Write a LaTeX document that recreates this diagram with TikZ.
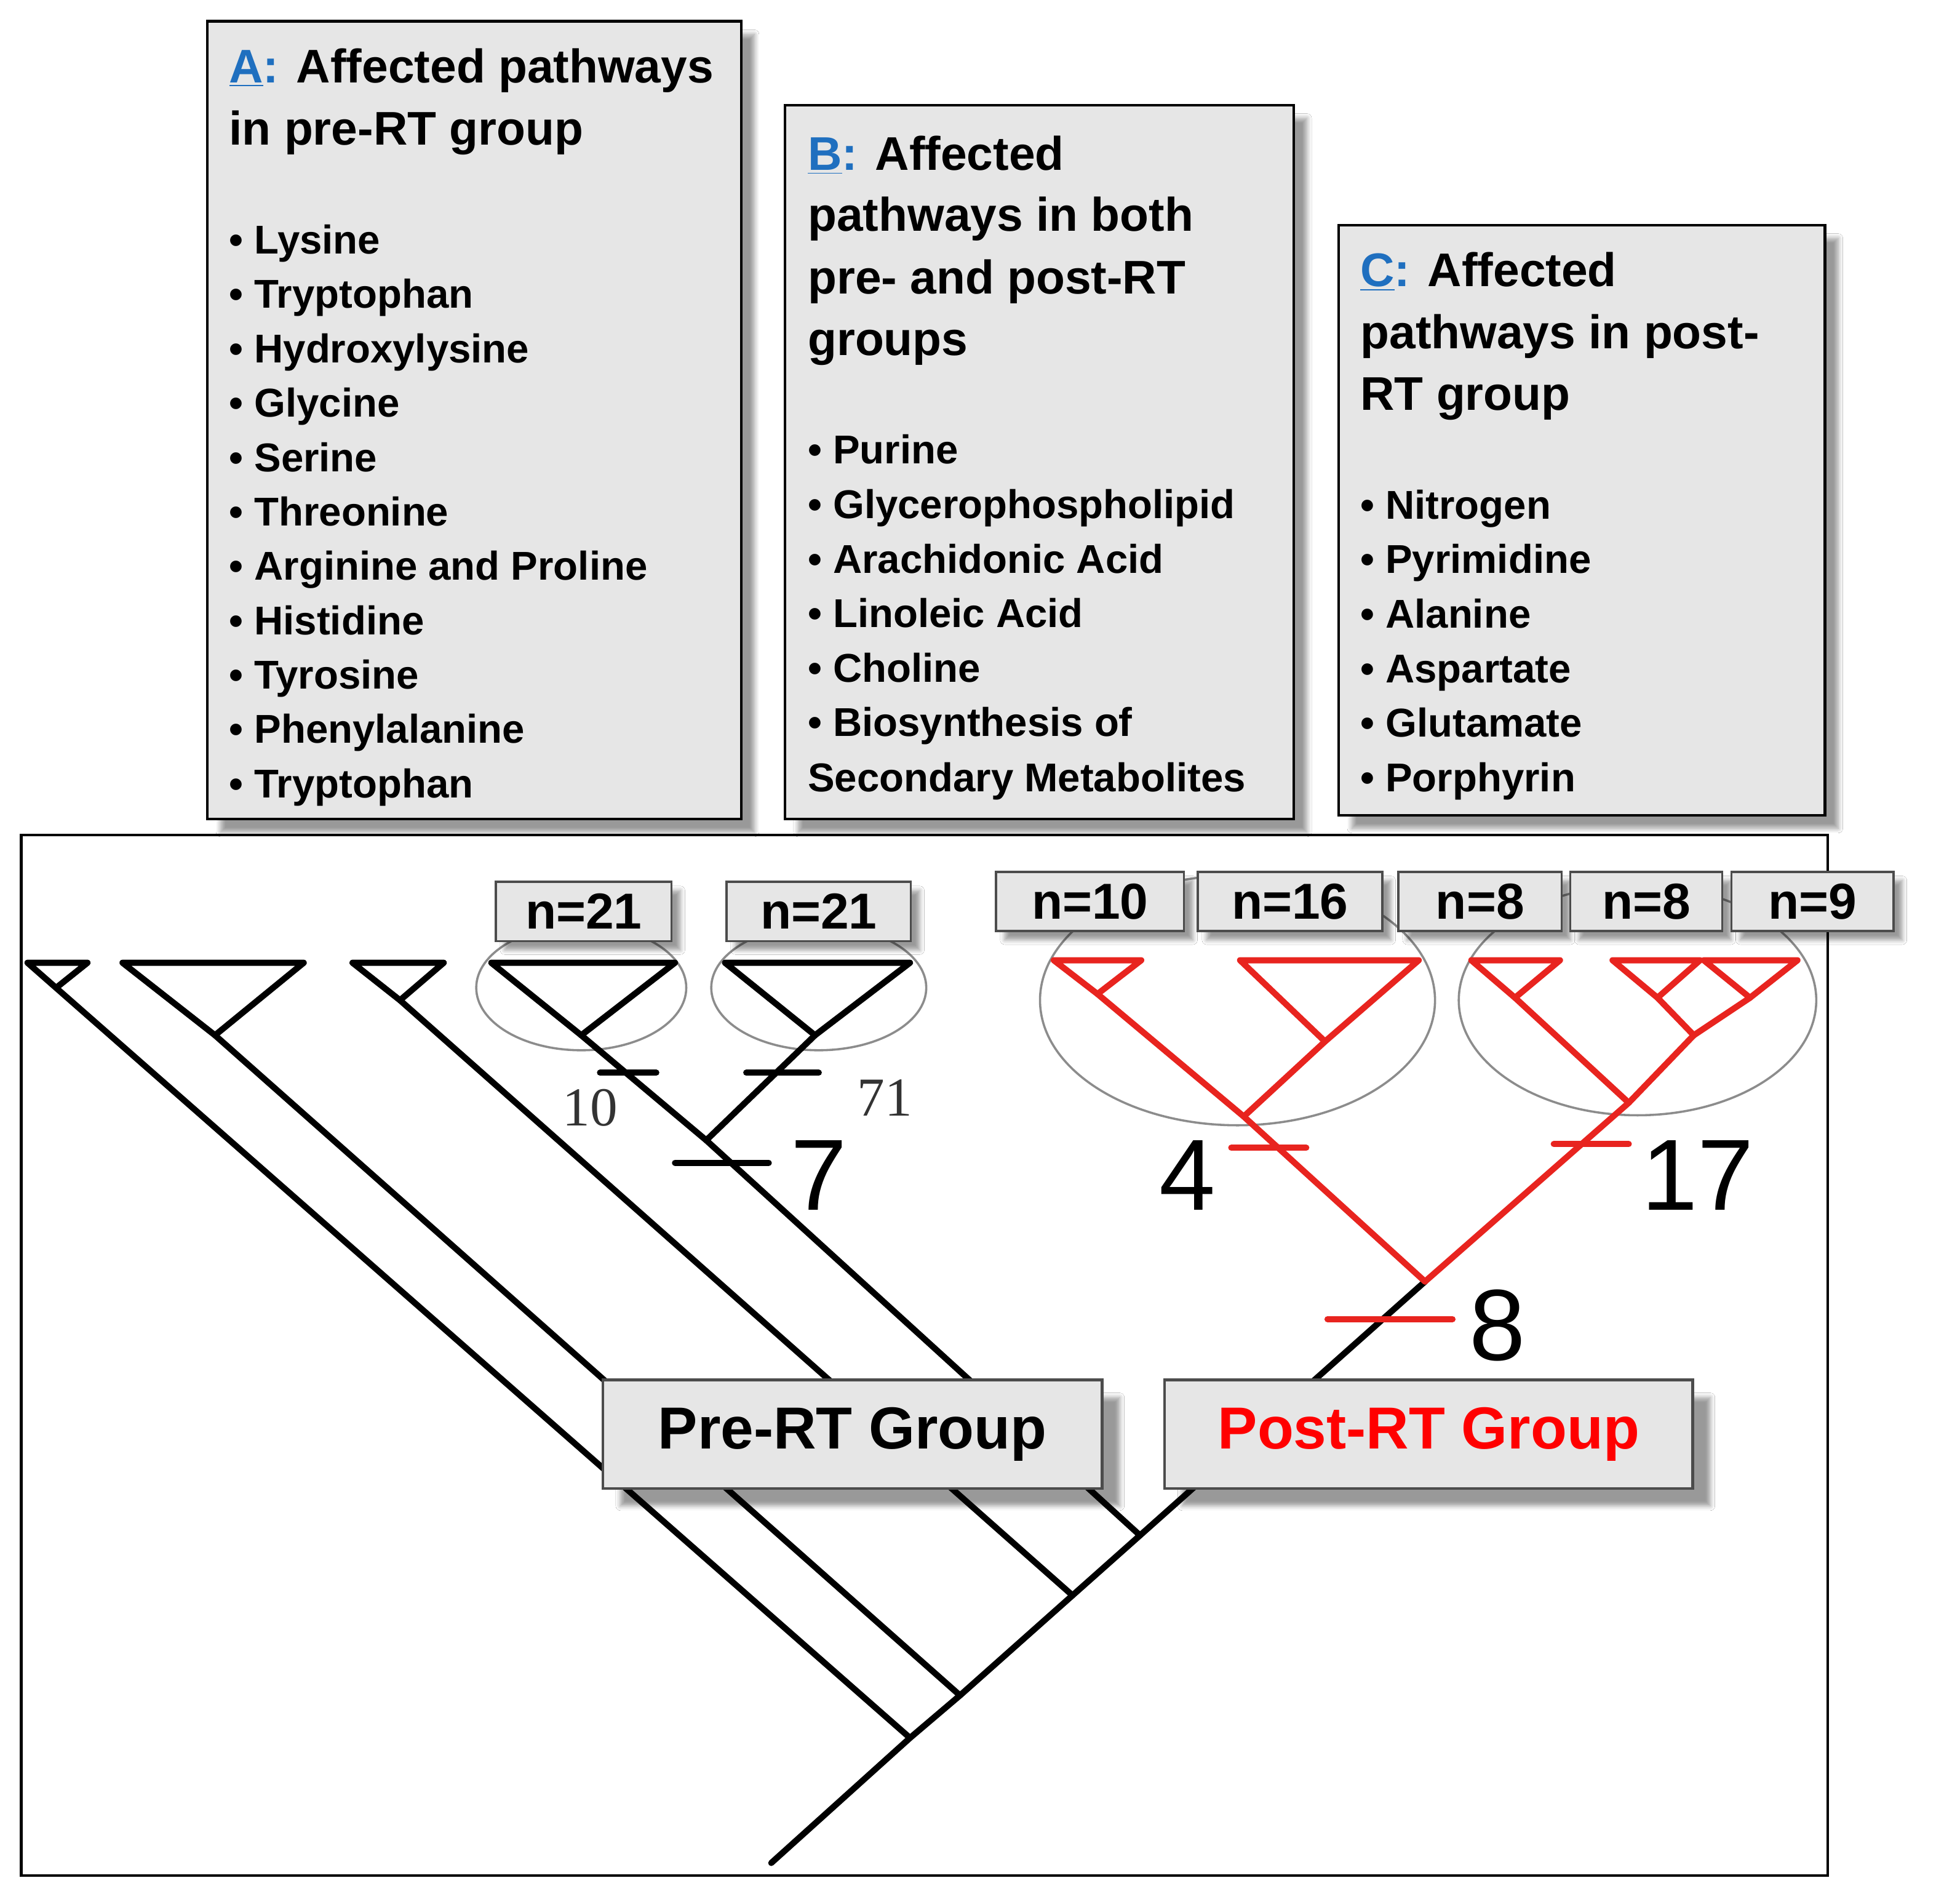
\documentclass[tikz,border=0pt]{standalone}
\usepackage{fontspec}
\setmainfont{Liberation Sans}
\newfontfamily\serifnum{Liberation Serif}
\usetikzlibrary{shadows.blur}
\definecolor{boxgray}{HTML}{E6E6E6}
\definecolor{ttlblue}{HTML}{1F6FBF}
\definecolor{treered}{HTML}{E8241F}
\tikzset{
 panel/.style={draw=black,line width=1.2pt,fill=boxgray,blur shadow={shadow xshift=6pt,shadow yshift=-6pt,shadow blur steps=8}},
 nbox/.style={draw=black!70,line width=1pt,fill=boxgray,blur shadow={shadow xshift=4pt,shadow yshift=-4pt},font=\bfseries\fontsize{23}{26}\selectfont,minimum height=27pt,inner sep=0pt},
 grpbox/.style={draw=black!70,line width=1.2pt,fill=boxgray,blur shadow={shadow xshift=8pt,shadow yshift=-8pt},font=\bfseries\fontsize{27}{30}\selectfont,inner sep=0pt},
 txt/.style={anchor=base west,inner sep=0pt,font=\bfseries\fontsize{18.3}{20}\selectfont},
 ttl/.style={anchor=base west,inner sep=0pt,font=\bfseries\fontsize{21.5}{24}\selectfont},
 br/.style={line width=2.8pt,line cap=round,line join=round},
 rbr/.style={br,draw=treered},
 ell/.style={draw=black!45,line width=1pt},
 bignum/.style={font=\fontsize{46}{50}\selectfont,inner sep=0pt},
 smnum/.style={font=\serifnum\fontsize{25}{28}\selectfont,inner sep=0pt,text=black!80}
}
\newcommand{\lbl}[1]{\textcolor{ttlblue}{\underline{#1}:}}
\begin{document}
\begin{tikzpicture}[x=0.02cm,y=-0.02cm]
\useasboundingbox (0,0) rectangle (1568,1521);
\fill[white] (0,0) rectangle (1568,1521);
\draw[line width=1.2pt] (17,668) rectangle (1462,1500);
\draw[panel] (166,17) rectangle (593,655);
\draw[panel] (628,84) rectangle (1035,655);
\draw[panel] (1071,180) rectangle (1460,652);
% A
\node[ttl] (ta1) at (183,66) {\lbl{A} Affected pathways};
\node[ttl] (ta2) at (183,116) {in pre-RT group};
\foreach \t [count=\i from 0] in {Lysine,Tryptophan,Hydroxylysine,Glycine,Serine,Threonine,Arginine and Proline,Histidine,Tyrosine,Phenylalanine,Tryptophan}
  \node[txt] (la\i) at (183,203+43.5*\i) {\textbullet\ \t};
% B
\node[ttl] (tb1) at (646,136) {\lbl{B} Affected};
\node[ttl] (tb2) at (646,185) {pathways in both};
\node[ttl] (tb3) at (646,235) {pre- and post-RT};
\node[ttl] (tb4) at (646,284) {groups};
\foreach \t [count=\i from 0] in {Purine,Glycerophospholipid,Arachidonic Acid,Linoleic Acid,Choline,Biosynthesis of}
  \node[txt] (lb\i) at (646,371+43.6*\i) {\textbullet\ \t};
\node[txt] (lb6) at (646,633) {Secondary Metabolites};
% C
\node[ttl] (tc1) at (1088,229) {\lbl{C} Affected};
\node[ttl] (tc2) at (1088,279) {pathways in post-};
\node[ttl] (tc3) at (1088,328) {RT group};
\foreach \t [count=\i from 0] in {Nitrogen,Pyrimidine,Alanine,Aspartate,Glutamate,Porphyrin}
  \node[txt] (lc\i) at (1088,415+43.6*\i) {\textbullet\ \t};
% ellipses
\draw[ell] (465,790) ellipse (84 and 50);
\draw[ell] (655,790) ellipse (86 and 50);
\draw[ell] (990,800) ellipse (158 and 100);
\draw[ell] (1310,800) ellipse (143 and 92);
% black tree
\coordinate (r0) at (617,1490);
\coordinate (s1) at (728,1390);
\coordinate (s2) at (768,1356);
\coordinate (s3) at (858,1276);
\coordinate (s4) at (912,1228);
\coordinate (s5) at (1140,1025);
\draw[br] (r0) -- (s1) -- (s2) -- (s3) -- (s4) -- (s5);
\draw[br] (s1) -- (22,770) -- (70,770) -- (45,790);
\draw[br] (s2) -- (172,828);
\draw[br] (98,770) -- (243,770) -- (172,828) -- cycle;
\draw[br] (s3) -- (320,800);
\draw[br] (282,770) -- (355,770) -- (320,800) -- cycle;
\coordinate (c4) at (565,912);
\draw[br] (s4) -- (c4) -- (465,828);
\draw[br] (c4) -- (652,828);
\draw[br] (393,770) -- (540,770) -- (465,828) -- cycle;
\draw[br] (580,770) -- (728,770) -- (652,828) -- cycle;
\draw[br] (480,858) -- (525,858);
\draw[br] (597,858) -- (655,858);
\draw[br] (540,930) -- (615,930);
\node[smnum] (n10) at (472,886) {10};
\node[smnum] (n71) at (708,878) {71};
\node[bignum] (n7) at (655,940) {7};
% red tree
\coordinate (rl) at (995,893);
\coordinate (rr) at (1303,882);
\coordinate (rrr) at (1355,828);
\draw[rbr] (s5) -- (rl) -- (878,795);
\draw[rbr] (rl) -- (1060,833);
\draw[rbr] (s5) -- (rr) -- (1212,798);
\draw[rbr] (rr) -- (rrr) -- (1326,798);
\draw[rbr] (rrr) -- (1400,798);
\draw[rbr] (843,768) -- (913,768) -- (878,795) -- cycle;
\draw[rbr] (992,768) -- (1135,768) -- (1060,833) -- cycle;
\draw[rbr] (1177,768) -- (1248,768) -- (1212,798) -- cycle;
\draw[rbr] (1290,768) -- (1360,768) -- (1326,798) -- cycle;
\draw[rbr] (1363,768) -- (1438,768) -- (1400,798) -- cycle;
\draw[rbr] (985,918) -- (1045,918);
\draw[rbr] (1243,915) -- (1303,915);
\draw[rbr] (1062,1055) -- (1162,1055);
\node[bignum] (n4) at (950,940) {4};
\node[bignum] (n17) at (1358,940) {17};
\node[bignum] (n8) at (1198,1060) {8};
% n boxes
\node[nbox,minimum width=141*0.567pt] (b1) at (467,729) {n=21};
\node[nbox,minimum width=148*0.567pt] (b2) at (655,729) {n=21};
\node[nbox,minimum width=151*0.567pt] (b3) at (872,721) {n=10};
\node[nbox,minimum width=148*0.567pt] (b4) at (1032,721) {n=16};
\node[nbox,minimum width=131*0.567pt] (b5) at (1184,721) {n=8};
\node[nbox,minimum width=122*0.567pt] (b6) at (1317,721) {n=8};
\node[nbox,minimum width=130*0.567pt] (b7) at (1450,721) {n=9};
% group boxes
\node[grpbox,minimum width=401*0.567pt,minimum height=87*0.567pt] (pre) at (682,1147) {Pre-RT Group};
\node[grpbox,minimum width=424*0.567pt,minimum height=87*0.567pt,text=red] (post) at (1143,1147) {Post-RT Group};
\end{tikzpicture}
\end{document}
